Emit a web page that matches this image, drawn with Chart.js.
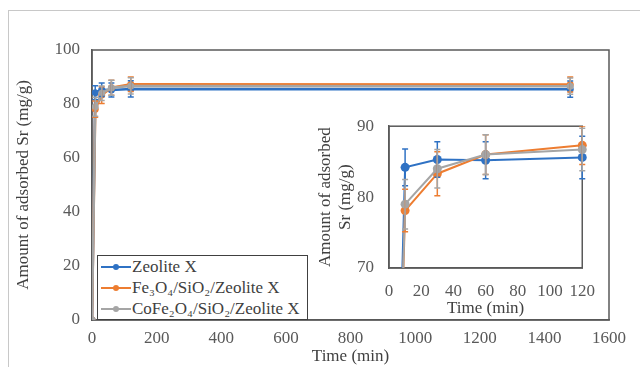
<!DOCTYPE html>
<html>
<head>
<meta charset="utf-8">
<script src="https://cdn.jsdelivr.net/npm/chart.js@4.4.0/dist/chart.umd.min.js"></script>
<style>
  body { margin: 0; background: #fff; }
  #wrap { position: relative; width: 640px; height: 367px; overflow: hidden; }
  #frame { position: absolute; left: 8px; top: 10px; width: 700px; height: 400px; border: 1px solid #c8c8c8; }
  #mainChart { position: absolute; left: 0; top: 0; }
  #insetBox { position: absolute; left: 308px; top: 101px; width: 300px; height: 218px; background: #fff; }
  #legend { position: absolute; left: 97px; top: 255px; width: 209px; height: 63px; border: 1px solid #404040;
            background: #fff; font-family: 'Liberation Serif', serif; font-size: 17px; color: #404040; }
  .item { display: flex; align-items: center; height: 21px; padding-left: 3px; white-space: nowrap; }
  .mark { position: relative; width: 30px; height: 10px; margin-right: 1px; flex: none; }
  .mark .ln { position: absolute; left: 0; top: 4px; width: 30px; height: 2px; }
  .mark .dt { position: absolute; left: 12px; top: 2px; width: 6px; height: 6px; border-radius: 50%; }
</style>
</head>
<body>
<div id="wrap">
  <div id="frame"></div>
  <canvas id="mainChart" width="640" height="367"></canvas>
  <div id="insetBox"><canvas id="insetChart" width="300" height="218"></canvas></div>
  <div id="legend"></div>
</div>
<script>
// time points (min)
const times = [0, 10, 30, 60, 120, 1480];
const seriesNames = ['Zeolite X', 'Fe\u2083O\u2084/SiO\u2082/Zeolite X', 'CoFe\u2082O\u2084/SiO\u2082/Zeolite X'];
const seriesColors = ['#2f72c4', '#ed7d31', '#a5a5a5'];

// amount of adsorbed Sr (mg/g)
const zeoliteX = [0, 84.2, 85.3, 85.2, 85.6, 85.5];
const fe3o4Zeolite = [0, 78.1, 83.3, 86.0, 87.3, 87.2];
const cofe2o4Zeolite = [0, 79.0, 84.0, 86.0, 86.7, 86.6];

// error bar half widths
const zeoliteXErr = [0, 2.6, 2.5, 2.6, 3.0, 3.0];
const fe3o4Err = [0, 3.0, 3.1, 2.8, 2.7, 2.8];
const cofe2o4Err = [0, 3.5, 2.7, 2.8, 3.0, 3.0];

const mainXTicks = [0, 200, 400, 600, 800, 1000, 1200, 1400, 1600];
const mainYTicks = [0, 20, 40, 60, 80, 100];
const insetXTicks = [0, 20, 40, 60, 80, 100, 120];
const insetYTicks = [70, 80, 90];

const allValues = [zeoliteX, fe3o4Zeolite, cofe2o4Zeolite];
const allErrors = [zeoliteXErr, fe3o4Err, cofe2o4Err];

const FONT = "'Liberation Serif', serif";

function makeDatasets(maxX, radius, width) {
    return allValues.map(function (vals, i) {
        const pts = [];
        times.forEach(function (t, j) {
            if (t <= maxX) pts.push({ x: t, y: vals[j], e: allErrors[i][j] });
        });
        return {
            label: seriesNames[i],
            data: pts,
            borderColor: seriesColors[i],
            backgroundColor: seriesColors[i],
            borderWidth: width,
            pointRadius: radius,
            pointBorderWidth: 0,
            order: 3 - i,
            clip: { left: 0, top: 8, right: 8, bottom: 0 }
        };
    });
}

// draws frame + error bars using the chart scales
const extras = {
    id: 'extras',
    beforeDatasetsDraw(chart, args, opts) {
        const a = chart.chartArea;
        const ctx = chart.ctx;
        ctx.save();
        ctx.strokeStyle = '#595959';
        ctx.lineWidth = 1.5;
        ctx.strokeRect(a.left, a.top, a.right - a.left, a.bottom - a.top);
        ctx.restore();
    },
    afterDatasetsDraw(chart, args, opts) {
        const xs = chart.scales.x, ys = chart.scales.y;
        const ctx = chart.ctx;
        const a = chart.chartArea;
        ctx.save();
        ctx.beginPath();
        ctx.rect(a.left - 10, a.top, a.right - a.left + 20, a.bottom - a.top);
        ctx.clip();
        chart.data.datasets.forEach(function (ds) {
            ctx.strokeStyle = ds.borderColor;
            ctx.lineWidth = opts.lw;
            ds.data.forEach(function (p) {
                if (!p.e) return;
                const px = xs.getPixelForValue(p.x);
                const top = ys.getPixelForValue(p.y + p.e);
                const bot = ys.getPixelForValue(p.y - p.e);
                ctx.beginPath();
                ctx.moveTo(px, top); ctx.lineTo(px, bot);
                ctx.moveTo(px - opts.cap, top); ctx.lineTo(px + opts.cap, top);
                ctx.moveTo(px - opts.cap, bot); ctx.lineTo(px + opts.cap, bot);
                ctx.stroke();
            });
        });
        ctx.restore();
    }
};

function axisOpts(min, max, ticks, title, fitSize, isY, pad) {
    return {
        type: 'linear', min: min, max: max,
        grid: { display: false, drawTicks: false },
        border: { display: true, color: '#595959', width: 1.5 },
        afterBuildTicks: function (s) { s.ticks = ticks.map(function (v) { return { value: v }; }); },
        afterFit: function (s) { if (isY) s.width = fitSize; else s.height = fitSize; },
        ticks: {
            color: '#595959', font: { family: FONT, size: 17 }, padding: pad,
            callback: function (v) { return String(v); }
        },
        title: { display: true, text: title, color: '#404040', font: { family: FONT, size: 17 }, padding: 0 }
    };
}

function renderCharts() {
    new Chart(document.getElementById('mainChart'), {
        type: 'line',
        data: { datasets: makeDatasets(1600, 3.5, 2.5) },
        options: {
            responsive: false, animation: false,
            layout: { padding: { left: 13, top: 50, right: 31, bottom: 0 } },
            plugins: { legend: { display: false }, tooltip: { enabled: false }, extras: { lw: 1.5, cap: 3 } },
            scales: {
                x: axisOpts(0, 1600, mainXTicks, 'Time (min)', 47, false, 8),
                y: axisOpts(0, 100, mainYTicks, 'Amount of adsorbed Sr (mg/g)', 79, true, 12)
            }
        },
        plugins: [extras]
    });

    new Chart(document.getElementById('insetChart'), {
        type: 'line',
        data: { datasets: makeDatasets(120, 4.5, 2) },
        options: {
            responsive: false, animation: false,
            layout: { padding: { left: 7, top: 8, right: 25, bottom: 0 } },
            plugins: { legend: { display: false }, tooltip: { enabled: false }, extras: { lw: 1.5, cap: 3 } },
            scales: {
                x: axisOpts(0, 120, insetXTicks, 'Time (min)', 51, false, 13),
                y: axisOpts(70, 90, insetYTicks, ['Amount of adsorbed', 'Sr (mg/g)'], 74, true, 15)
            }
        },
        plugins: [extras]
    });

    // legend built from the series arrays
    const leg = document.getElementById('legend');
    seriesNames.forEach(function (name, i) {
        const row = document.createElement('div');
        row.className = 'item';
        row.innerHTML = '<span class="mark"><span class="ln" style="background:' + seriesColors[i] +
            '"></span><span class="dt" style="background:' + seriesColors[i] + '"></span></span>';
        const txt = document.createElement('span');
        txt.textContent = name;
        row.appendChild(txt);
        leg.appendChild(row);
    });
}

document.addEventListener('DOMContentLoaded', renderCharts);
</script>
</body>
</html>
